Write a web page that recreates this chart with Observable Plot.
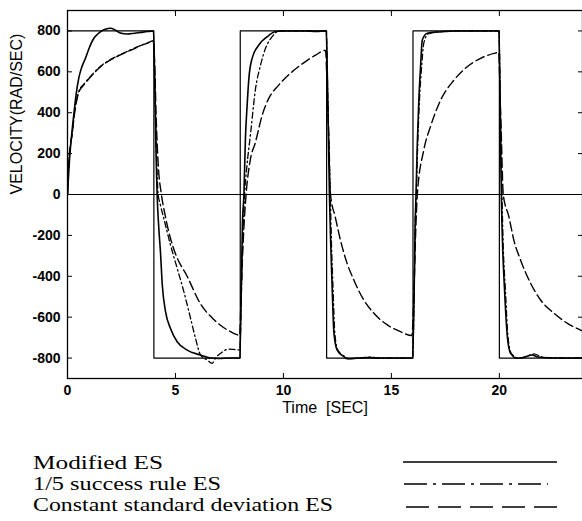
<!DOCTYPE html>
<html><head><meta charset="utf-8">
<script src="https://cdn.jsdelivr.net/npm/d3@7"></script>
<script src="https://cdn.jsdelivr.net/npm/@observablehq/plot@0.6"></script>
<style>
body{margin:0;background:#fff;width:582px;height:521px;overflow:hidden;}
#chart svg{display:block;}
#legend{display:block;}
</style></head><body>
<div id="chart"></div>
<svg id="legend" width="582" height="96"></svg>
<script>
const xTicks = [0, 5, 10, 15, 20];
const yTicks = [-800, -600, -400, -200, 0, 200, 400, 600, 800];
const seriesNames = ["Modified ES", "1/5 success rule ES", "Constant standard deviation ES"];

const refT = [0, 4, 4, 8, 8, 12, 12, 16, 16, 20, 20, 24];
const refV = [800, 800, -800, -800, 800, 800, -800, -800, 800, 800, -800, -800];

const modT = [0,0.1,0.2,0.29,0.4,0.52,0.65,0.83,1.0,1.22,1.4,1.55,1.75,2.0,2.2,2.45,2.77,3.1,3.4,3.7,3.98,
  4.05,4.1,4.15,4.22,4.31,4.39,4.54,4.77,5.08,5.54,6.16,6.62,7.0,7.5,7.98,
  8.05,8.1,8.17,8.24,8.32,8.4,8.55,8.86,9.25,9.63,9.95,10.5,11.0,11.5,11.98,
  12.03,12.08,12.13,12.19,12.26,12.34,12.49,12.8,12.95,13.5,14.0,14.5,15.0,15.5,15.98,
  16.05,16.1,16.14,16.2,16.27,16.35,16.43,16.66,17.1,17.5,18.0,19.0,19.98,
  20.03,20.07,20.1,20.15,20.24,20.37,20.52,20.83,21.2,21.5,21.8,22.5,23.0,24.0];
const modV = [0,180,300,389,490,568,620,666,715,764,785,798,808,813,805,790,785,789,793,797,800,
  500,200,0,-150,-290,-443,-573,-655,-720,-761,-785,-800,-802,-800,-800,
  -450,-150,0,275,438,568,666,731,772,797,800,800,800,798,800,
  600,300,0,-240,-467,-679,-761,-793,-803,-800,-798,-800,-800,-800,-800,
  -500,-150,0,250,462,625,756,789,795,797,800,800,800,
  500,150,-50,-250,-467,-696,-777,-801,-795,-785,-795,-800,-800,-800];

const succT = [0,0.06,0.15,0.22,0.3,0.37,0.45,0.52,0.76,1.07,1.53,1.99,2.4,2.77,3.1,3.38,3.7,3.97,
  4.05,4.12,4.2,4.3,4.46,4.77,5.08,5.39,5.7,5.93,6.16,6.47,6.7,6.85,7.09,7.47,7.9,7.98,
  8.05,8.12,8.2,8.3,8.48,8.71,8.94,9.17,9.48,9.79,10.5,11.0,11.98,
  12.05,12.1,12.17,12.22,12.3,12.38,12.52,12.85,13.0,13.5,14.0,14.5,15.5,15.98,
  16.05,16.1,16.15,16.22,16.3,16.4,16.5,16.7,17.1,18.0,19.98,
  20.05,20.12,20.17,20.28,20.4,20.55,20.9,21.3,21.6,22.0,23.0,24.0];
const succV = [0,160,250,300,380,438,478,503,540,578,627,660,682,700,716,729,741,752,
  500,200,0,-50,-117,-247,-361,-476,-606,-704,-785,-810,-826,-800,-777,-756,-760,-760,
  -500,-200,0,130,300,519,633,715,772,800,800,800,800,
  500,250,0,-223,-467,-679,-761,-793,-803,-800,-795,-800,-800,-800,
  -500,-150,0,250,462,625,740,785,795,800,800,
  400,0,-223,-467,-696,-777,-801,-790,-780,-795,-800,-800];

const constT = [0,0.06,0.15,0.22,0.3,0.37,0.45,0.52,0.76,1.07,1.53,1.99,2.4,2.77,3.1,3.38,3.7,3.98,
  4.05,4.1,4.2,4.35,4.5,4.77,5.0,5.54,6.16,6.78,7.55,7.97,
  8.05,8.15,8.27,8.45,8.71,9.02,9.32,9.79,10.41,11.02,11.49,11.95,
  12.03,12.1,12.18,12.4,12.64,12.95,13.26,13.72,14.19,14.81,15.42,15.95,
  16.05,16.12,16.2,16.5,16.81,17.28,17.9,18.51,19.13,19.75,19.97,
  20.03,20.1,20.18,20.44,20.67,20.98,21.45,21.91,22.53,23.15,23.76,24.0];
const constV = [0,160,250,300,375,430,470,500,536,576,625,658,680,699,714,728,740,751,
  600,400,150,0,-90,-215,-290,-400,-535,-612,-671,-688,
  -450,-200,0,160,258,389,470,536,601,650,682,705,
  495,300,0,-110,-223,-337,-418,-516,-581,-638,-671,-690,
  -450,-200,0,218,332,462,560,625,666,690,695,
  500,250,0,-108,-223,-320,-435,-516,-581,-630,-663,-675];

const rows = (T, V) => T.map((t, i) => ({t, v: V[i]}));
const plain = d => String(d);

const chart = Plot.plot({
  width: 582, height: 425,
  marginLeft: 67, marginRight: 0, marginTop: 10, marginBottom: 47,
  x: {domain: [0, 23.85]},
  y: {domain: [-900, 900]},
  style: {fontFamily: "'Liberation Sans', Arial, sans-serif", fontWeight: "bold", background: "white", color: "black"},
  marks: [
    Plot.ruleY([0], {stroke: "black", strokeWidth: 1}),
    Plot.line(rows(refT, refV), {x: "t", y: "v", stroke: "black", strokeWidth: 1.2, clip: true}),
    Plot.line(rows(constT, constV), {x: "t", y: "v", stroke: "black", strokeWidth: 1.4, strokeDasharray: "9,4", curve: "monotone-x", clip: true}),
    Plot.line(rows(succT, succV), {x: "t", y: "v", stroke: "black", strokeWidth: 1.3, strokeDasharray: "6,3,1.5,3", curve: "monotone-x", clip: true}),
    Plot.line(rows(modT, modV), {x: "t", y: "v", stroke: "black", strokeWidth: 1.6, curve: "monotone-x", clip: true}),
    Plot.frame({stroke: "black", strokeWidth: 1.3}),
    Plot.axisX(xTicks, {anchor: "bottom", tickSize: -5, tickPadding: 12, fontSize: 14, fontWeight: "bold", tickFormat: plain, label: null}),
    Plot.axisX(xTicks, {anchor: "top", tickSize: -5, tickFormat: () => "", label: null}),
    Plot.axisY(yTicks, {anchor: "left", tickSize: -5, tickPadding: 12, fontSize: 14, fontWeight: "bold", tickFormat: plain, label: null}),
    Plot.axisY(yTicks, {anchor: "right", tickSize: -5, tickFormat: () => "", label: null}),
    Plot.text(["VELOCITY(RAD/SEC)"], {frameAnchor: "left", rotate: -90, dx: -51, fontSize: 16, fontWeight: "normal"}),
    Plot.text(["Time\u00a0 [SEC]"], {frameAnchor: "bottom", dy: 34, fontSize: 16, fontWeight: "normal"})
  ]
});
document.getElementById("chart").appendChild(chart);

// legend
const lg = d3.select("#legend").style("font-family", "'Liberation Serif','Times New Roman',serif");
const textY = [44, 65, 86];
const textW = [130, 188, 300];
const lineY = [37, 59, 82];
const dashes = [null, "23,6,3,6", "23,9"];
const lineX = [[403, 557], [404, 548], [406, 559]];
seriesNames.forEach((name, i) => {
  lg.append("text").attr("x", 33).attr("y", textY[i]).attr("font-size", 18)
    .attr("textLength", textW[i]).attr("lengthAdjust", "spacingAndGlyphs").attr("fill", "black").text(name);
  lg.append("line").attr("x1", lineX[i][0]).attr("x2", lineX[i][1]).attr("y1", lineY[i]).attr("y2", lineY[i])
    .attr("stroke", "black").attr("stroke-width", 1.6).attr("stroke-dasharray", dashes[i]);
});
</script>
</body></html>
